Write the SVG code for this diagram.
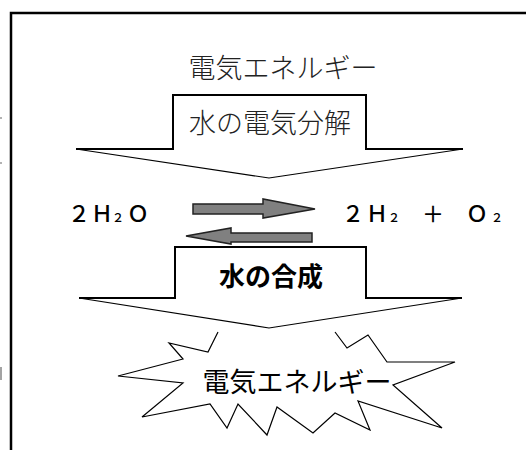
<svg xmlns="http://www.w3.org/2000/svg" width="526" height="450" viewBox="0 0 526 450">
<style>
.frame{fill:none;stroke:#000;stroke-width:2.5}
.box{fill:none;stroke:#000;stroke-width:2}
.diag{fill:none;stroke:#000;stroke-width:1.2}
.wfill{fill:#fff;stroke:none}
.burst{fill:none;stroke:#000;stroke-width:1.2;stroke-linejoin:miter}
.conn{fill:#808080;stroke:#222;stroke-width:1.5;stroke-linejoin:miter}
.mincho{font-family:"Noto Sans CJK JP","Liberation Serif",serif;font-weight:300;fill:#222}
.goth{font-family:"Noto Sans CJK JP","Liberation Sans",sans-serif;fill:#000}
.formula{font-family:"Noto Sans CJK JP","Liberation Sans",sans-serif;font-weight:500;fill:#000}
.stray{stroke:#666;stroke-width:1.2}
</style>
<rect width="526" height="450" fill="#fff"/>
<g id="frame">
<path class="frame" d="M11,450 V13 H526"/>
<line class="stray" x1="0" y1="118" x2="2" y2="118"/>
<line class="stray" x1="0" y1="163" x2="2" y2="163"/>
<line class="stray" x1="1" y1="367" x2="1" y2="380"/>
</g>
<g id="burst">
<polyline class="burst" points="218,332 208,352 169,343 183,359 118,376 183,383 142,417 210,404 227,428 238,404 267,435 277,407 313,433 335,413 370,430 358,401 442,428 393,385 455,362 387,362 368,335 347,348 335,332"/>
<text class="goth" x="297" y="380" font-size="27" text-anchor="middle" dominant-baseline="central">電気エネルギー</text>
</g>
<g id="top-energy">
<text class="mincho" x="283" y="66" font-size="27" text-anchor="middle" dominant-baseline="central">電気エネルギー</text>
</g>
<g id="electrolysis">
<polygon class="wfill" points="173,95 366,95 366,149 463,149 269,178 76,149 173,149"/>
<path class="box" d="M76,149 H173 V95 H366 V149 H463"/>
<path class="diag" d="M76,149 L269,178 L463,149"/>
<text class="mincho" x="270" y="121" font-size="27" text-anchor="middle" dominant-baseline="central">水の電気分解</text>
</g>
<g id="h2o">
<text class="formula" y="222" font-size="22" text-anchor="middle"><tspan x="79">２</tspan><tspan x="102">Ｈ</tspan><tspan x="118" font-size="12">２</tspan><tspan x="138">Ｏ</tspan></text>
</g>
<g id="h2-o2">
<text class="formula" y="222" font-size="22" text-anchor="middle"><tspan x="353">２</tspan><tspan x="377">Ｈ</tspan><tspan x="394" font-size="12">２</tspan><tspan x="433">＋</tspan><tspan x="477">Ｏ</tspan><tspan x="497" font-size="12">２</tspan></text>
</g>
<g id="connectors">
<polygon class="conn" points="193,204 263,204 263,199 315,209 263,218 263,214 193,214"/>
<polygon class="conn" points="312,233 231,233 231,228 186,236 231,244 231,242 312,242"/>
</g>
<g id="synthesis">
<polygon class="wfill" points="175,247 366,247 366,298 462,298 269,328 79,298 175,298"/>
<path class="box" d="M79,298 H175 V247 H366 V298 H462"/>
<path class="diag" d="M79,298 L269,328 L462,298"/>
<text class="goth" x="271" y="274" font-size="26" font-weight="bold" text-anchor="middle" dominant-baseline="central">水の合成</text>
</g>
</svg>
